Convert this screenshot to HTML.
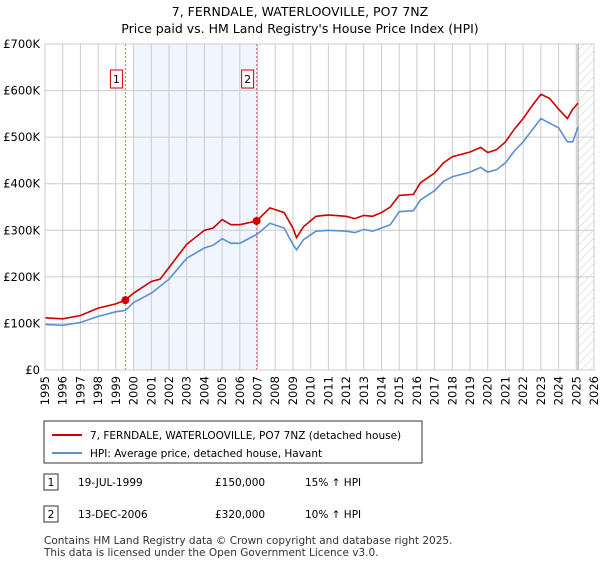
<!DOCTYPE html>
<html><head><meta charset="utf-8"><style>
body{margin:0;background:#fff;font-family:"Liberation Sans","DejaVu Sans",sans-serif;}
svg text{font-family:"DejaVu Sans","Liberation Sans",sans-serif;}
</style></head><body>
<svg width="600" height="560" xmlns="http://www.w3.org/2000/svg">
<defs><pattern id="hatch" width="6" height="6" patternUnits="userSpaceOnUse" patternTransform="rotate(45)"><line x1="0" y1="0" x2="0" y2="6" stroke="#ccc" stroke-width="1"/></pattern></defs>
<text x="300" y="16" text-anchor="middle" font-size="12.5">7, FERNDALE, WATERLOOVILLE, PO7 7NZ</text>
<text x="300" y="33" text-anchor="middle" font-size="12.5">Price paid vs. HM Land Registry's House Price Index (HPI)</text>
<g id="plot"></g>
<g>
<rect x="44" y="421" width="378" height="42" fill="#fff" stroke="#333"/>
<line x1="52" y1="435" x2="82" y2="435" stroke="#cc0000" stroke-width="2"/>
<text x="90" y="439" font-size="10.5">7, FERNDALE, WATERLOOVILLE, PO7 7NZ (detached house)</text>
<line x1="52" y1="453" x2="82" y2="453" stroke="#5b8fd4" stroke-width="2"/>
<text x="90" y="457" font-size="10.5">HPI: Average price, detached house, Havant</text>
</g>
<g font-size="10.5">
<rect x="44" y="474" width="14" height="16" fill="#fff" stroke="#333"/><text x="51" y="486" text-anchor="middle">1</text>
<text x="78" y="486">19-JUL-1999</text><text x="215" y="486">£150,000</text><text x="305" y="486">15% ↑ HPI</text>
<rect x="44" y="506" width="14" height="16" fill="#fff" stroke="#333"/><text x="51" y="518" text-anchor="middle">2</text>
<text x="78" y="518">13-DEC-2006</text><text x="215" y="518">£320,000</text><text x="305" y="518">10% ↑ HPI</text>
</g>
<text x="44" y="544" font-size="10.5" fill="#333">Contains HM Land Registry data © Crown copyright and database right 2025.</text>
<text x="44" y="556" font-size="10.5" fill="#333">This data is licensed under the Open Government Licence v3.0.</text>
</svg>
<script>
const hpiYears=[1995,1996,1997,1998,1999,1999.54,2000,2001,2002,2003,2004,2004.5,2005,2005.5,2006,2007,2007.7,2008.5,2009,2009.2,2009.6,2010.3,2011,2012,2012.5,2013,2013.5,2014,2014.5,2015,2015.8,2016.2,2017,2017.5,2018,2019,2019.6,2020,2020.5,2021,2021.5,2022,2022.5,2023,2023.5,2024,2024.5,2024.8,2025.1];
const hpiValues=[98,96,102,115,125,128,145,165,195,240,262,268,282,272,272,292,315,305,270,258,280,298,300,298,295,302,298,305,312,340,342,365,385,405,415,425,435,425,430,445,470,490,515,540,530,520,490,490,522];
const priceYears=[1995,1996,1997,1998,1999,1999.54,2000,2001,2001.5,2002,2003,2004,2004.5,2005,2005.5,2006,2006.95,2007.7,2008.5,2009,2009.2,2009.6,2010.3,2011,2012,2012.5,2013,2013.5,2014,2014.5,2015,2015.8,2016.2,2017,2017.5,2018,2019,2019.6,2020,2020.5,2021,2021.5,2022,2022.5,2023,2023.5,2024,2024.5,2024.8,2025.1];
const priceValues=[112,110,117,133,142,150,165,190,195,220,270,300,305,323,312,312,320,348,338,305,284,308,330,333,330,325,332,330,338,350,375,377,402,423,445,458,468,478,467,473,490,517,540,567,592,583,560,540,560,573];
const sales=[{n:"1",year:1999.54,value:150},{n:"2",year:2006.95,value:320}];
const yTicks=[0,100,200,300,400,500,600,700];
const yTickLabels=["£0","£100K","£200K","£300K","£400K","£500K","£600K","£700K"];
const xTicks=[1995,1996,1997,1998,1999,2000,2001,2002,2003,2004,2005,2006,2007,2008,2009,2010,2011,2012,2013,2014,2015,2016,2017,2018,2019,2020,2021,2022,2023,2024,2025,2026];
const X0=45,X1=594,Y0=370,Y1=44;
const xs=y=>X0+(y-1995)/(2026-1995)*(X1-X0);
const ys=v=>Y0-v/700*(Y0-Y1);
const NS="http://www.w3.org/2000/svg";
const g=document.getElementById('plot');
function mk(t,a,p){const e=document.createElementNS(NS,t);for(const k in a)e.setAttribute(k,a[k]);(p||g).appendChild(e);return e;}
const shade=mk('rect',{x:xs(2000),y:Y1,width:xs(2007)-xs(2000),height:Y0-Y1,fill:'#eef3fc',opacity:0.8});


const hatch=mk('rect',{x:xs(2025.1),y:Y1,width:X1-xs(2025.1),height:Y0-Y1,fill:'url(#hatch)'});


xTicks.forEach(t=>{const l=mk('line',{x1:xs(t),x2:xs(t),y1:Y1,y2:Y0,stroke:'#ccc','stroke-width':1});


const tx=mk('text',{x:0,y:0,'font-size':11.5,'text-anchor':'end',transform:`translate(${xs(t)+4},${Y0+6}) rotate(-90)`});
tx.textContent=t;

});
yTicks.forEach((t,i)=>{const l=mk('line',{x1:X0,x2:X1,y1:ys(t),y2:ys(t),stroke:'#ccc','stroke-width':1});


const tx=mk('text',{x:40,y:ys(t)+4,'font-size':11.5,'text-anchor':'end'});
tx.textContent=yTickLabels[i];

});
const vl=mk('line',{x1:xs(2025.1),x2:xs(2025.1),y1:Y1,y2:Y0,stroke:'#999','stroke-width':1});


sales.forEach(s=>{const l=mk('line',{x1:xs(s.year),x2:xs(s.year),y1:Y1,y2:Y0,stroke:'#e06060','stroke-dasharray':'2,2','stroke-width':1});

});
function path(xa,va,c,name){const d=xa.map((x,i)=>(i?'L':'M')+xs(x).toFixed(1)+','+ys(va[i]).toFixed(1)).join('');
const p=mk('path',{d:d,fill:'none',stroke:c,'stroke-width':1.6});

}
path(hpiYears,hpiValues,'#5b8fd4','hpi-line');
path(priceYears,priceValues,'#cc0000','price-line');
sales.forEach(s=>{const c=mk('circle',{cx:xs(s.year),cy:ys(s.value),r:4,fill:'#cc0000'});


const bx=xs(s.year)-15;
const r=mk('rect',{x:bx,y:70,width:12,height:18,fill:'#fff',stroke:'#cc0000'});


const t=mk('text',{x:bx+6,y:83,'font-size':11,'text-anchor':'middle'});t.textContent=s.n;

});
const frame=mk('rect',{x:X0,y:Y1,width:X1-X0,height:Y0-Y1,fill:'none',stroke:'#ccc'});


</script>
</body></html>
